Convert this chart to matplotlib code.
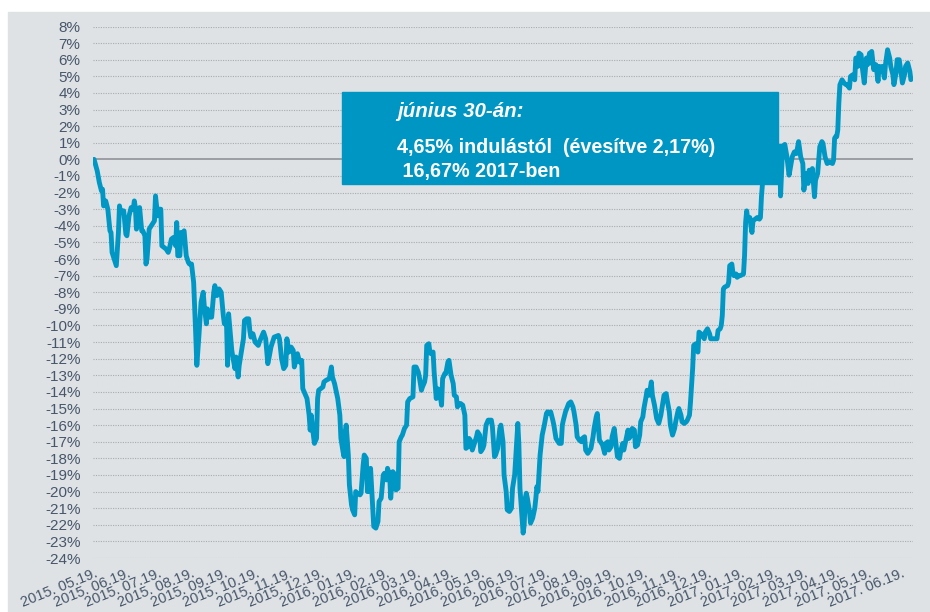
import pandas as pd
import matplotlib
matplotlib.use('Agg')
import matplotlib.pyplot as plt
from matplotlib.patches import Rectangle

plt.rcParams['font.family'] = ['Liberation Sans', 'DejaVu Sans']

start = pd.Timestamp('2015-05-19')

# days since start, cumulative return in %
days = [0, 3, 5, 7, 8, 9, 11, 13, 15, 16, 17, 19, 21, 23, 24, 25, 27, 28, 30, 31,
        33, 35, 37, 38, 39, 40, 42, 43, 45, 46, 48, 49, 50, 52, 54, 57, 58, 60, 61, 63,
        64, 66, 68, 70, 71, 73, 75, 77, 78, 79, 81, 82, 84, 85, 87, 89, 90, 92, 94, 96,
        97, 99, 101, 103, 104, 106, 107, 109, 111, 113, 114, 116, 118, 120, 122, 123, 125, 126,
        127, 130, 131, 133, 134, 136, 137, 141, 142, 144, 146, 147, 148, 150, 152, 155, 156, 158, 160, 162,
        164, 165, 167, 169, 170, 174, 175, 177, 179, 181, 182, 184, 186, 188, 189, 191, 192, 194, 196, 197,
        199, 201, 203, 204, 205, 207, 208, 210, 211, 212, 214, 216, 217, 219, 222, 224, 225, 227, 230, 232,
        233, 235, 236, 237, 238, 240, 241, 243, 244, 246, 247, 248, 251, 252, 254, 255, 257, 258,
        260, 261, 264, 266, 268, 269, 271, 273, 274, 276, 277, 279, 280, 282, 284, 285, 287, 288, 290, 291,
        293, 295, 296, 298, 301, 302, 304, 306, 307, 309, 310, 312, 313, 314, 316, 317, 318, 320, 321, 323,
        324, 326, 328, 329, 331, 332, 334, 335, 337, 339, 340, 342, 343, 345, 346, 348, 350, 351, 353, 354,
        356, 357, 359, 361, 362, 364, 365, 367, 368, 370, 372, 373, 375, 376, 378, 379, 381, 383, 384, 386,
        387, 389, 390,
        392, 394, 395, 397, 398, 400, 401, 402, 404, 405, 406, 407, 408, 409, 411, 412, 414, 416, 417, 418,
        419, 421, 422, 423, 425, 427, 428, 430, 431, 433, 434, 436, 438, 439, 441, 442, 443, 445, 448, 450,
        452, 453, 455, 456, 458, 460, 461, 463, 464, 466, 467, 469, 471, 472, 474, 475, 477, 478, 480, 482,
        483, 485, 486, 488, 489, 491, 493, 494, 496, 497, 499, 500, 502, 504, 505, 507, 508, 510, 511, 513,
        515, 516, 518, 519, 521, 522,
        524, 526, 527, 529, 531, 533, 535, 537, 538, 540, 541, 543, 544, 546, 548, 549, 551, 552, 554, 555,
        557, 559, 560, 562, 563, 565, 566, 568, 570, 571, 573, 574, 576, 577, 579, 581, 582, 585, 588, 589,
        591, 592, 593, 594, 595, 598, 599, 600, 602, 603, 604, 606, 607, 609, 610, 613, 614, 615, 616, 617,
        619, 620, 621, 622, 624, 626, 628, 629, 630, 631, 640,
        647, 648, 650, 652, 654, 656, 657, 659, 661, 663, 665, 667, 669, 670, 672, 674, 675, 677, 678, 680,
        681, 683, 685, 687, 688, 690, 692, 694, 697, 698, 699, 700, 701, 702, 703, 704, 706, 708, 710, 711,
        713, 714, 716, 718, 719, 720, 721, 722, 724, 725, 727, 729, 730, 732, 733, 734, 736, 737, 738, 740,
        741, 743, 744, 746, 747, 749, 751, 752, 754, 755, 757, 758, 760, 762, 763, 765, 766, 768, 770, 771]

vals = [0, -0.7, -1.4, -1.9, -1.8, -2.8, -2.5, -3.0, -4.3, -4.4, -5.6, -6.0, -6.4, -4.4, -2.8, -3.2, -3.1, -3.1, -4.5, -4.6,
        -3.4, -2.9, -3.0, -2.5, -2.9, -4.2, -3.0, -2.9, -4.3, -4.3, -4.6, -6.3, -6.0, -4.2, -4.0, -3.7, -2.2, -3.4, -3.0, -3.0,
        -5.2, -5.3, -5.4, -5.6, -5.4, -4.8, -4.7, -5.2, -3.8, -5.8, -5.8, -4.4, -4.4, -4.3, -5.8, -6.2, -6.3, -6.3, -7.4, -10.6,
        -12.4, -10.6, -8.6, -8.0, -8.8, -9.9, -9.0, -9.5, -9.5, -8.0, -7.6, -8.2, -7.8, -8.0, -9.4, -9.9, -9.8, -12.4,
        -9.3, -11.5, -11.9, -12.6, -11.9, -13.1, -12.4, -10.8, -9.7, -9.6, -9.6, -10.3, -10.7, -10.5, -11.0, -11.2, -11.0, -10.7, -10.4, -10.8,
        -12.3, -12.0, -11.3, -10.9, -10.7, -10.6, -10.8, -12.0, -12.6, -12.4, -10.8, -11.6, -11.3, -11.5, -12.5, -12.0, -11.7, -12.2, -12.1, -13.8,
        -14.1, -14.4, -15.4, -16.3, -15.4, -16.6, -17.1, -16.8, -14.4, -13.9, -13.8, -13.7, -13.4, -13.3, -13.2, -12.5, -13.1, -13.5, -14.4, -15.4,
        -16.8, -17.6, -17.9, -16.4, -16.0, -17.8, -19.6, -20.8, -21.1, -21.4, -20.0, -20.1, -20.2, -20.1, -18.4, -17.8, -18.0, -20.0,
        -20.0, -18.6, -22.1, -22.2, -21.8, -20.6, -20.4, -19.0, -18.9, -19.3, -18.6, -19.0, -20.4, -18.8, -19.0, -19.9, -19.8, -17.0, -16.7, -16.6,
        -16.2, -16.0, -14.6, -14.4, -14.3, -12.5, -12.5, -12.8, -13.1, -13.9, -13.7, -13.4, -13.0, -11.2, -11.1, -11.6, -11.7, -11.6, -12.8, -14.4,
        -13.8, -13.9, -14.8, -13.2, -12.9, -12.9, -12.2, -12.1, -13.0, -13.5, -14.2, -14.3, -14.9, -14.7, -14.7, -14.8, -15.4, -17.4, -17.3, -16.8,
        -17.0, -17.5, -17.1, -16.7, -16.4, -16.6, -17.6, -17.4, -17.2, -16.0, -15.7, -15.7, -15.7, -16.1, -17.9, -17.8, -17.4, -16.2, -16.0, -17.0,
        -19.0, -20.0, -21.1,
        -21.2, -21.0, -19.8, -19.0, -18.0, -15.9, -17.2, -19.8, -21.6, -22.5, -22.0, -20.4, -20.1, -20.4, -21.2, -21.9, -21.6, -21.0, -20.4, -19.7,
        -20.0, -17.8, -17.2, -16.6, -16.0, -15.3, -15.2, -15.3, -15.2, -15.7, -16.0, -16.8, -17.0, -17.1, -17.1, -16.0, -15.7, -15.2, -14.7, -14.6,
        -14.9, -15.2, -16.0, -16.7, -16.9, -17.0, -16.8, -16.7, -17.5, -17.7, -17.6, -17.4, -16.7, -16.2, -15.5, -15.3, -16.9, -17.0, -17.2, -17.7,
        -17.1, -17.0, -17.5, -17.3, -16.7, -16.2, -17.3, -17.9, -18.0, -17.6, -17.1, -17.5, -16.9, -16.3, -16.8, -16.6, -16.2, -16.3, -17.3, -17.2,
        -16.6, -15.8, -15.5, -15.0, -14.3, -13.9,
        -14.2, -13.4, -14.2, -14.8, -15.6, -15.9, -15.4, -14.6, -14.2, -14.1, -14.5, -15.2, -16.0, -16.6, -16.2, -15.8, -15.2, -15.0, -15.4, -15.8,
        -15.9, -15.8, -15.7, -15.4, -14.6, -12.6, -11.2, -11.1, -11.6, -10.4, -10.5, -10.6, -10.8, -10.4, -10.2, -10.5, -10.8, -10.8, -10.8, -10.3,
        -10.2, -10.0, -9.4, -7.8, -7.7, -7.6, -7.4, -6.4, -6.3, -6.8, -7.0, -6.9, -7.1, -7.0, -7.0, -6.9, -5.8, -3.8, -3.1, -3.6,
        -3.5, -4.0, -4.4, -3.7, -3.6, -3.5, -3.6, -3.5, -2.2, -1.4, 0.5,
        0.8, -2.2, 0.8, 0.9, 0.15, -0.95, -0.6, 0.15, 0.45, 0.35, 1.07, 0.15, -0.25, -1.85, -0.85, -1.45, -0.65, -1.05, -0.55, -2.25,
        -1.25, -0.85, 0.76, 1.07, 0.97, 0.15, -0.25, -0.15, -0.25, -0.05, 1.27, 1.37, 1.37, 1.77, 3.38, 4.49, 4.79, 4.59, 4.49, 4.49,
        4.29, 4.99, 5.09, 4.79, 6.1, 6.0, 5.6, 6.4, 6.3, 5.6, 4.6, 6.1, 5.7, 6.4, 5.8, 6.5, 5.4, 5.7, 5.7, 4.7,
        5.6, 5.3, 5.6, 4.9, 5.7, 6.6, 6.1, 5.6, 5.1, 4.5, 5.2, 6.0, 6.0, 5.1, 4.6, 5.1, 5.6, 5.8, 5.3, 4.8]

yticks = list(range(-24, 9))
tick_dates = pd.date_range(start, periods=26, freq=pd.DateOffset(months=1))
tick_labels = [d.strftime('%Y. %m.%d.') for d in tick_dates]

title_txt = 'június 30-án:'
line1_txt = '4,65% indulástól  (évesítve 2,17%)'
line2_txt = ' 16,67% 2017-ben'

dates = start + pd.to_timedelta(days, unit='D')

blue = '#0097c5'
txt_col = '#47566a'

fig = plt.figure(figsize=(9.3, 6.12), dpi=100)
fig.add_artist(Rectangle((8/930, 0), 1, 1 - 12/612, transform=fig.transFigure,
                         color='#dee2e5', zorder=-10))

ax = fig.add_axes([93/930, 1 - 558/612, (913 - 93)/930, (558 - 26.5)/612])
ax.patch.set_alpha(0)
for s in ax.spines.values():
    s.set_visible(False)

for v in yticks:
    if v == 0:
        ax.axhline(v, color='#8f9397', lw=1.2, zorder=1)
    else:
        ax.axhline(v, color='#a8acb0', lw=0.8, ls=(0, (1, 1.2)), zorder=1)

ax.plot(dates, vals, color=blue, lw=3.5, solid_joinstyle='round',
        solid_capstyle='round', zorder=3)

ax.set_ylim(-24, 8)
ax.set_xlim(start - pd.Timedelta(days=1), start + pd.Timedelta(days=773))
ax.set_yticks(yticks)
ax.set_yticklabels([f'{v}%' for v in yticks])
ax.set_xticks(tick_dates)
ax.set_xticklabels(tick_labels, rotation=22, ha='right', rotation_mode='anchor')
ax.tick_params(axis='y', length=0, pad=9, labelsize=11, labelcolor=txt_col)
ax.tick_params(axis='x', length=0, pad=6, labelsize=10.5, labelcolor=txt_col)

# annotation box
fig.add_artist(Rectangle((342/930, 1 - 184/612), (778 - 342)/930, (184 - 92.5)/612,
                         transform=fig.transFigure, color='#0096c4', zorder=5))
fig.text(397/930, 1 - 116.7/612, title_txt, color='white', fontsize=14.8,
         fontweight='bold', style='italic', va='baseline', zorder=6)
fig.text(397/930, 1 - 153.3/612, line1_txt, color='white', fontsize=14.2,
         fontweight='bold', va='baseline', zorder=6)
fig.text(397/930, 1 - 176.7/612, line2_txt, color='white', fontsize=14.2,
         fontweight='bold', va='baseline', zorder=6)

fig.savefig('out.png', dpi=100)
